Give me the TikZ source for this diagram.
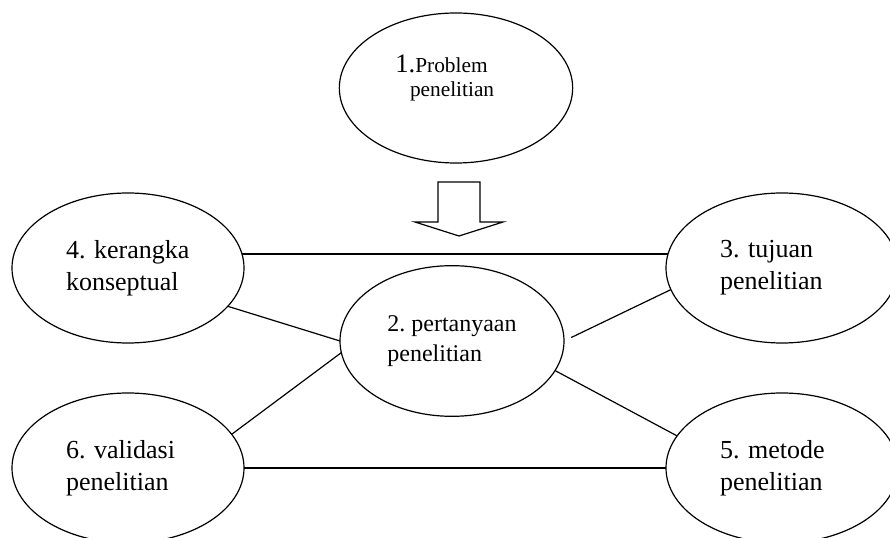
\documentclass[tikz,border=0pt]{standalone}
\usepackage{fontspec}
\setmainfont{Liberation Serif}
\usetikzlibrary{shapes.geometric}
\frenchspacing

\begin{document}
\begin{tikzpicture}[x=0.75pt,y=-0.75pt,
    bubble/.style={draw,ellipse,line width=0.9pt,inner sep=0pt,outer sep=0pt,
      minimum width=174pt,minimum height=112.5pt,align=left,
      font=\fontsize{19.5}{24}\selectfont},
    side/.style={bubble,text width=93pt},
    link/.style={line width=0.9pt}]
    \useasboundingbox (0,0) rectangle (890,538);
    % --- (1) problem and block arrow
    \node[bubble,minimum width=175pt,text width=91pt,text depth=37pt,
      font=\fontsize{16}{18.5}\selectfont] (prob) at (456,88)
      {{\fontsize{20}{18.5}\selectfont 1.}Problem\\\hspace*{11pt}penelitian};
    \draw[line width=0.9pt] (438,182) -- (480,182) -- (480,222) -- (503,222)
      -- (459,236) -- (415,222) -- (438,222) -- cycle;
    % --- (2)-(6) ring of research steps
    \node[bubble,minimum width=168pt,minimum height=113pt,
      font=\fontsize{18}{22.5}\selectfont] (tanya) at (452,341)
      {2.~pertanyaan\\penelitian};
    \node[side] (tujuan) at (782,268) {3.~tujuan\\penelitian};
    \node[side] (konsep) at (128,268) {4.~kerangka\\konseptual};
    \node[side] (metode) at (782,468) {5.~metode\\penelitian};
    \node[side] (valid)  at (128,468) {6.~validasi\\penelitian};
    \foreach \a/\b in {konsep.7/tujuan.173, konsep.-21/tanya.west,
                       valid.18/tanya.186, tanya.-16/metode.163,
                       valid.east/metode.west}
      \draw[link] (\a) -- (\b);
    \draw[link,shorten <=6pt] (tanya.0) -- (tujuan.191);
\end{tikzpicture}
\end{document}
